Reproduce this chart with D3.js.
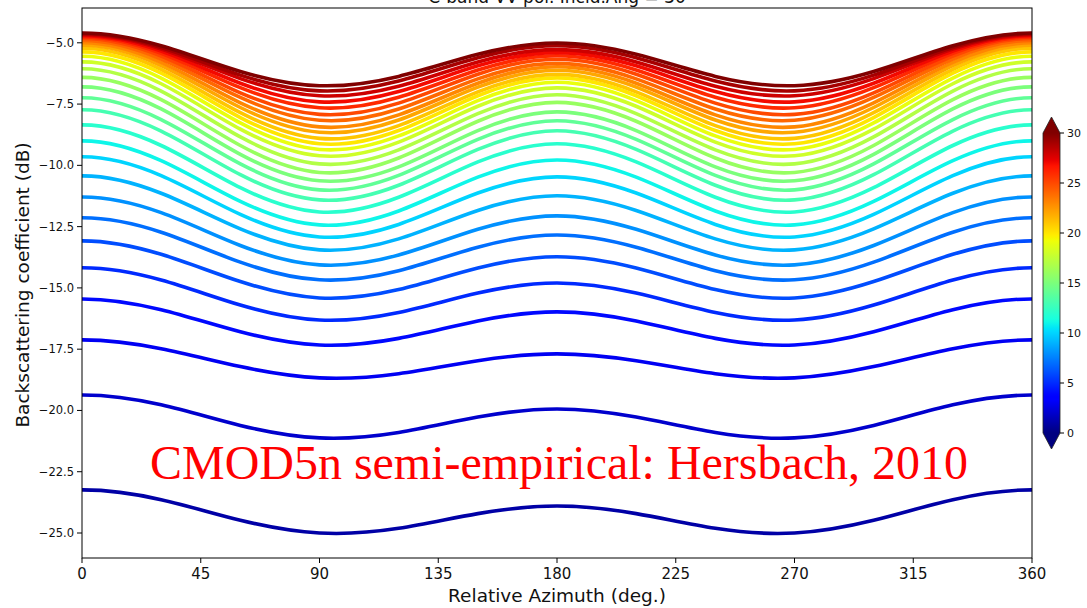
<!DOCTYPE html>
<html><head><meta charset="utf-8">
<script src="https://cdn.jsdelivr.net/npm/d3@7"></script>
<style>body{margin:0;background:#fff;overflow:hidden} svg{display:block}</style>
</head><body>
<svg id="chart" width="1087" height="608"></svg>
<script>
// ---------------- data ----------------
const titleText = "C-band VV pol. Incid.Ang = 30";
const annotation = "CMOD5n semi-empirical: Hersbach, 2010";
const xLabel = "Relative Azimuth (deg.)";
const yLabel = "Backscattering coefficient (dB)";
// azimuths of the read values (0..180, curves are symmetric about 180)
const halfAzimuths = [0, 30, 60, 90, 120, 150, 180];
const windSpeeds = [1,2,3,4,5,6,7,8,9,10,11,12,13,14,15,16,17,18,19,20,21,22,23,24,25,26,27,28,29,30];
// sigma0 (dB) read at halfAzimuths, one row per wind speed
const sigma0Half = [
  [-23.24,-23.64,-24.48,-25.00,-24.81,-24.21,-23.90],
  [-19.37,-19.77,-20.61,-21.12,-20.90,-20.27,-19.94],
  [-17.12,-17.48,-18.21,-18.67,-18.50,-17.97,-17.69],
  [-15.45,-15.89,-16.79,-17.33,-17.06,-16.35,-15.98],
  [-14.18,-14.68,-15.70,-16.31,-16.00,-15.21,-14.80],
  [-13.08,-13.63,-14.74,-15.41,-15.07,-14.19,-13.73],
  [-12.14,-12.73,-13.95,-14.67,-14.30,-13.34,-12.84],
  [-11.29,-11.93,-13.27,-14.06,-13.66,-12.61,-12.06],
  [-10.43,-11.14,-12.59,-13.45,-13.00,-11.84,-11.24],
  [-9.65,-10.42,-12.00,-12.92,-12.41,-11.13,-10.47],
  [-9.00,-9.81,-11.47,-12.43,-11.86,-10.48,-9.78],
  [-8.35,-9.19,-10.91,-11.90,-11.30,-9.86,-9.12],
  [-7.73,-8.60,-10.38,-11.41,-10.81,-9.35,-8.59],
  [-7.24,-8.13,-9.94,-11.00,-10.41,-8.94,-8.18],
  [-6.80,-7.70,-9.55,-10.63,-10.06,-8.58,-7.82],
  [-6.41,-7.32,-9.19,-10.29,-9.70,-8.20,-7.43],
  [-6.06,-6.97,-8.84,-9.94,-9.37,-7.89,-7.12],
  [-5.78,-6.67,-8.52,-9.61,-9.05,-7.59,-6.84],
  [-5.55,-6.44,-8.27,-9.35,-8.80,-7.36,-6.61],
  [-5.37,-6.24,-8.05,-9.12,-8.58,-7.16,-6.43],
  [-5.22,-6.08,-7.85,-8.90,-8.38,-7.00,-6.29],
  [-5.10,-5.93,-7.64,-8.65,-8.15,-6.81,-6.12],
  [-5.00,-5.80,-7.45,-8.43,-7.94,-6.65,-5.98],
  [-4.90,-5.66,-7.23,-8.16,-7.70,-6.47,-5.84],
  [-4.82,-5.54,-7.04,-7.92,-7.46,-6.28,-5.67],
  [-4.76,-5.43,-6.83,-7.65,-7.22,-6.11,-5.53],
  [-4.71,-5.34,-6.65,-7.41,-6.99,-5.94,-5.40],
  [-4.67,-5.25,-6.46,-7.16,-6.77,-5.78,-5.28],
  [-4.63,-5.19,-6.32,-6.96,-6.56,-5.61,-5.12],
  [-4.60,-5.12,-6.17,-6.75,-6.37,-5.47,-5.01]
];
const xTicks = [0, 45, 90, 135, 180, 225, 270, 315, 360];
const yTicks = [-25.0, -22.5, -20.0, -17.5, -15.0, -12.5, -10.0, -7.5, -5.0];
const cbTicks = [0, 5, 10, 15, 20, 25, 30];
const xDomain = [0, 360];
const yDomain = [-26.02, -3.58];
const cDomain = [0, 30];

// ---------------- jet colormap ----------------
function jet(t) {
  t = Math.max(0, Math.min(1, t));
  const seg = (pts) => {
    for (let i = 1; i < pts.length; i++) {
      if (t <= pts[i][0]) {
        const [x0, y0] = pts[i-1], [x1, y1] = pts[i];
        return y0 + (y1 - y0) * (t - x0) / (x1 - x0);
      }
    }
    return pts[pts.length-1][1];
  };
  const r = seg([[0,0],[0.35,0],[0.66,1],[0.89,1],[1,0.5]]);
  const g = seg([[0,0],[0.125,0],[0.375,1],[0.64,1],[0.91,0],[1,0]]);
  const b = seg([[0,0.5],[0.11,1],[0.34,1],[0.65,0],[1,0]]);
  return d3.rgb(r*255, g*255, b*255).toString();
}

// ---------------- layout ----------------
const svg = d3.select("#chart");
const L = 82, R = 1032, T = 8, B = 558;
const x = d3.scaleLinear().domain(xDomain).range([L, R]);
const y = d3.scaleLinear().domain(yDomain).range([B, T]);
const cscale = d3.scaleLinear().domain(cDomain).range([0, 1]);

svg.append("defs").append("clipPath").attr("id", "plotclip")
  .append("rect").attr("x", L).attr("y", T).attr("width", R - L).attr("height", B - T);

// full circular series: mirror about 180, then pad for a periodic smooth curve
function fullSeries(row) {
  const pts = halfAzimuths.map((a, i) => [a, row[i]]);
  for (let i = halfAzimuths.length - 2; i >= 0; i--) pts.push([360 - halfAzimuths[i], row[i]]);
  const pre = [[-60, row[2]], [-30, row[1]]];
  const post = [[390, row[1]], [420, row[2]]];
  return pre.concat(pts, post);
}

const line = d3.line().x(d => x(d[0])).y(d => y(d[1])).curve(d3.curveNatural);
const g = svg.append("g").attr("clip-path", "url(#plotclip)");
windSpeeds.forEach((ws, i) => {
  g.append("path")
    .datum(fullSeries(sigma0Half[i]))
    .attr("d", line)
    .attr("fill", "none")
    .attr("stroke", jet(cscale(ws)))
    .attr("stroke-width", 3.6)
    .attr("stroke-linecap", "butt");
});

// annotation text
const ann = svg.append("text")
  .attr("x", 150).attr("y", 479)
  .attr("fill", "#ff0000")
  .attr("font-family", "'Liberation Serif','Times New Roman',serif")
  .attr("font-size", 50)
  .text(annotation);
const w0 = ann.node().getComputedTextLength();
ann.attr("font-size", 50 * 818 / w0);

// frame
svg.append("rect").attr("x", L).attr("y", T).attr("width", R - L).attr("height", B - T)
  .attr("fill", "none").attr("stroke", "#000").attr("stroke-width", 1);

// x axis
const font = "'DejaVu Sans', sans-serif";
const xa = svg.append("g");
xTicks.forEach(t => {
  xa.append("line").attr("x1", x(t)).attr("x2", x(t)).attr("y1", B).attr("y2", B + 5).attr("stroke", "#000");
  xa.append("text").attr("x", x(t)).attr("y", 579).attr("text-anchor", "middle")
    .attr("font-family", font).attr("font-size", 15).attr("fill", "#111").text(String(t));
});
svg.append("text").attr("x", (L + R) / 2).attr("y", 602).attr("text-anchor", "middle")
  .attr("font-family", font).attr("font-size", 18.5).attr("fill", "#111").text(xLabel);

// y axis
const ya = svg.append("g");
yTicks.forEach(t => {
  ya.append("line").attr("x1", L - 5).attr("x2", L).attr("y1", y(t)).attr("y2", y(t)).attr("stroke", "#000");
  ya.append("text").attr("x", L - 8).attr("y", y(t)).attr("dy", "0.35em").attr("text-anchor", "end")
    .attr("font-family", font).attr("font-size", 11.5).attr("fill", "#111")
    .text(t.toFixed(1).replace("-", "\u2212"));
});
svg.append("text").attr("transform", `translate(29,${(T + B) / 2 + 2}) rotate(-90)`)
  .attr("text-anchor", "middle")
  .attr("font-family", font).attr("font-size", 18.5).attr("fill", "#111").text(yLabel);

// title (mostly clipped at the top, as in the reference)
svg.append("text").attr("x", (L + R) / 2).attr("y", 2.5).attr("text-anchor", "middle")
  .attr("font-family", font).attr("font-size", 17).attr("fill", "#111").text(titleText);

// colorbar
const cbL = 1043, cbR = 1060, cbTop = 133, cbBot = 433, tip = 16;
const cy = d3.scaleLinear().domain(cDomain).range([cbBot, cbTop]);
const grad = svg.select("defs").append("linearGradient").attr("id", "jetgrad")
  .attr("x1", 0).attr("y1", 1).attr("x2", 0).attr("y2", 0);
d3.range(0, 1.0001, 0.01).forEach(t => grad.append("stop").attr("offset", t).attr("stop-color", jet(t)));
svg.append("rect").attr("x", cbL).attr("y", cy(30)).attr("width", cbR - cbL).attr("height", cy(0) - cy(30))
  .attr("fill", "url(#jetgrad)");
svg.append("path").attr("d", `M${cbL},${cy(30)}L${(cbL+cbR)/2},${cy(30)-tip}L${cbR},${cy(30)}Z`).attr("fill", jet(1));
svg.append("path").attr("d", `M${cbL},${cy(0)}L${(cbL+cbR)/2},${cy(0)+tip}L${cbR},${cy(0)}Z`).attr("fill", jet(0));
svg.append("path")
  .attr("d", `M${cbL},${cy(30)}L${(cbL+cbR)/2},${cy(30)-tip}L${cbR},${cy(30)}L${cbR},${cy(0)}L${(cbL+cbR)/2},${cy(0)+tip}L${cbL},${cy(0)}Z`)
  .attr("fill", "none").attr("stroke", "#222").attr("stroke-width", 0.8);
cbTicks.forEach(t => {
  svg.append("line").attr("x1", cbR).attr("x2", cbR + 4).attr("y1", cy(t)).attr("y2", cy(t)).attr("stroke", "#000");
  svg.append("text").attr("x", cbR + 7).attr("y", cy(t)).attr("dy", "0.35em")
    .attr("font-family", font).attr("font-size", 11).attr("fill", "#111").text(String(t));
});
</script>
</body></html>
